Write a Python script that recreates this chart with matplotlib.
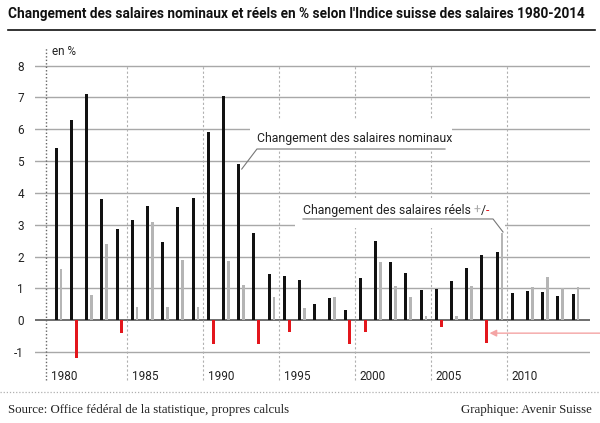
import numpy as np
import matplotlib
matplotlib.use("Agg")
import matplotlib.pyplot as plt
from matplotlib.patches import Rectangle
from matplotlib.lines import Line2D

plt.rcParams['font.family'] = ['Roboto', 'DejaVu Sans']

years = np.arange(1980, 2015)
nominal = [5.4, 6.3, 7.1, 3.8, 2.85, 3.15, 3.6, 2.45, 3.55, 3.85, 5.9, 7.05,
           4.9, 2.75, 1.45, 1.38, 1.26, 0.5, 0.7, 0.33, 1.33, 2.5, 1.84,
           1.47, 0.95, 0.99, 1.23, 1.65, 2.05, 2.15, 0.85, 0.92, 0.88, 0.75, 0.82]
real = [1.6, -1.2, 0.8, 2.4, -0.4, 0.4, 3.1, 0.4, 1.9, 0.4, -0.75, 1.87,
        1.1, -0.75, 0.72, -0.38, 0.39, 0.0, 0.72, -0.75, -0.38, 1.82, 1.08,
        0.73, 0.14, -0.21, 0.14, 1.06, -0.72, 2.75, 0.0, 1.03, 1.35, 1.0, 1.03]
year_labels = [1980, 1985, 1990, 1995, 2000, 2005, 2010]
yticks = list(range(-1, 9))

title = "Changement des salaires nominaux et réels en % selon l'Indice suisse des salaires 1980-2014"
source = "Source: Office fédéral de la statistique, propres calculs"
credit = "Graphique: Avenir Suisse"

real = np.array(real)
fig = plt.figure(figsize=(6, 4.23), dpi=100)
ax = fig.add_axes([35/600, 1-385/423, 555/600, 340/423])
ax.set_xlim(1978.60, 2015.11)
ax.set_ylim(-2.04, 8.65)

# grid
for v in yticks:
    if v == 0:
        ax.axhline(v, color='#555555', lw=1.2, zorder=1)
    else:
        ax.axhline(v, color='#a8a8a8', lw=1.0, zorder=1)
ax.plot([1979.30, 1979.30], [-1.89, 8.58], color='#666666', lw=1, ls=(0, (1, 1.5)), zorder=1)
for y in year_labels[1:]:
    ax.plot([y - 0.35, y - 0.35], [-1.89, 8.0], color='#b0b0b0', lw=0.8, ls=(0, (2, 2)), zorder=1)

# white boxes behind labels
ax.add_patch(Rectangle((1992.74, 5.31), 13.3, 0.98, facecolor='white', edgecolor='none', zorder=2))
ax.add_patch(Rectangle((1995.70, 2.89), 13.8, 0.95, facecolor='white', edgecolor='none', zorder=2))

# bars
ax.bar(years, nominal, width=0.19, color='#111111', zorder=3)
pos = real >= 0
ax.bar(years[pos] + 0.32, real[pos], width=0.17, color='#b5b5b5', zorder=3)
ax.bar(years[~pos] + 0.32, real[~pos], width=0.2, color='#e3161c', zorder=3)

# year labels
for y in year_labels:
    x = 1979.63 if y == 1980 else y - 0.04
    ax.text(x, -1.76, str(y), ha='left', va='center', fontsize=8.5, color='#222222')

ax.text(1979.72, 8.43, "en %", ha='left', va='center', fontsize=8.5, color='#222222')

# annotations
ax.text(1993.2, 5.72, "Changement des salaires nominaux", ha='left', va='center',
        fontsize=8.8, color='#222222', zorder=4)
ax.plot([2005.57, 1993.2, 1992.2], [5.38, 5.38, 4.75], color='#777777', lw=0.8, zorder=4)

t = ax.text(1996.23, 3.46, "Changement des salaires réels ", ha='left', va='center',
            fontsize=8.8, color='#222222', zorder=4)
t2 = ax.annotate("+", xy=(1, 0), xycoords=t, ha='left', va='bottom', fontsize=8.8,
                 color='#aaaaaa', zorder=4)
t3 = ax.annotate("/", xy=(1, 0), xycoords=t2, ha='left', va='bottom', fontsize=8.8,
                 color='#222222', zorder=4)
ax.annotate("-", xy=(1, 0), xycoords=t3, ha='left', va='bottom', fontsize=8.8,
            color='#e3161c', zorder=4)
ax.plot([1996.23, 2008.73, 2009.39], [3.18, 3.18, 2.77], color='#777777', lw=0.8, zorder=4)

# red arrow
ax.annotate("", xy=(2008.5, -0.41), xytext=(2015.8, -0.41), annotation_clip=False,
            arrowprops=dict(arrowstyle='-|>', color='#f4a4a4', lw=1.0,
                            mutation_scale=10, shrinkA=0, shrinkB=0), zorder=4)

ax.set_yticks(yticks)
ax.set_yticklabels([str(v) for v in yticks], fontsize=8.5, color='#222222')
ax.tick_params(axis='y', length=0, pad=8)
ax.set_xticks([])
for s in ax.spines.values():
    s.set_visible(False)

# title, footer
fig.text(8/600, 1-14/423, title, ha='left', va='center', fontsize=9.8,
         fontweight='bold', color='#111111')
fig.add_artist(Line2D([8/600, 595/600], [1-30/423, 1-30/423], color='#111111', lw=1.2))
fig.add_artist(Line2D([0, 1], [1-392/423, 1-392/423], color='#b0b0b0', lw=0.9,
                      ls=(0, (1, 1.5))))
fig.text(8/600, 1-410/423, source, ha='left', va='center', fontsize=9.3,
         family='Liberation Serif', color='#222222')
fig.text(592/600, 1-410/423, credit, ha='right', va='center', fontsize=9.3,
         family='Liberation Serif', color='#222222')

fig.savefig("out.png", dpi=100)
